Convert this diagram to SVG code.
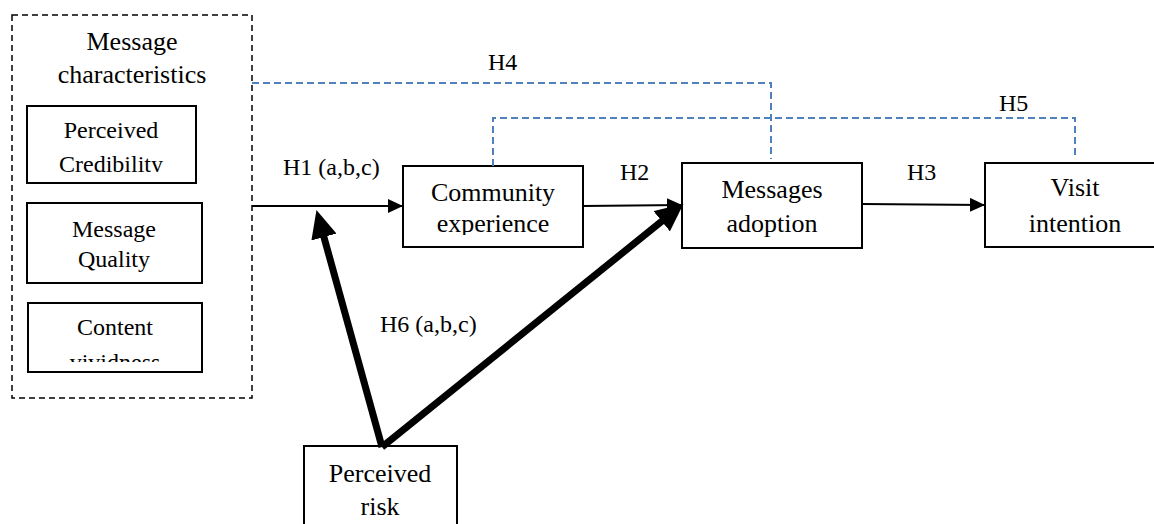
<svg xmlns="http://www.w3.org/2000/svg" width="1154" height="524" viewBox="0 0 1154 524">
<style>
text{fill:#000;font-family:"Liberation Serif",serif}
.n{font-size:26px;text-anchor:middle}
.s{font-size:24px;text-anchor:middle}
.l{font-size:24px}
.box{fill:#fff;stroke:#000;stroke-width:2}
.thin{fill:none;stroke:#000;stroke-width:2}
.thick{fill:none;stroke:#000;stroke-width:7}
.blue{fill:none;stroke:#4f81bd;stroke-width:2;stroke-dasharray:7 4}
</style>
<defs>
<marker id="ah" markerUnits="userSpaceOnUse" markerWidth="16" markerHeight="14" refX="15" refY="7" orient="auto"><path d="M0,0 L15,7 L0,14 Z" fill="#000"/></marker>
<marker id="big" markerUnits="userSpaceOnUse" markerWidth="28" markerHeight="26" refX="2" refY="13" orient="auto"><path d="M0,0 L28,13 L0,26 Z" fill="#000"/></marker>
<clipPath id="c1"><rect x="0" y="0" width="1154" height="235"/></clipPath>
<clipPath id="c2"><rect x="0" y="0" width="1154" height="172"/></clipPath>
<clipPath id="c3"><rect x="0" y="0" width="1154" height="362"/></clipPath>
</defs>
<g id="message-characteristics">
<rect x="12" y="15" width="240" height="383" fill="none" stroke="#000" stroke-width="1.5" stroke-dasharray="6 4"/>
<text class="n" x="132" y="50">Message</text>
<text class="n" x="132" y="83">characteristics</text>
</g>
<g id="perceived-credibility">
<rect class="box" x="27" y="106" width="169" height="77"/>
<text class="s" x="111" y="138">Perceived</text>
<text class="s" x="111" y="172" clip-path="url(#c2)">Credibility</text>
</g>
<g id="message-quality">
<rect class="box" x="27" y="203" width="175" height="80"/>
<text class="s" x="114" y="237">Message</text>
<text class="s" x="114" y="267">Quality</text>
</g>
<g id="content-vividness">
<rect class="box" x="28" y="303" width="174" height="69"/>
<text class="s" x="115" y="335">Content</text>
<text class="s" x="115" y="370" clip-path="url(#c3)">vividness</text>
</g>
<g id="community-experience">
<rect class="box" x="403" y="166" width="180" height="81"/>
<text class="n" x="493" y="201">Community</text>
<text class="n" x="493" y="232" clip-path="url(#c1)">experience</text>
</g>
<g id="messages-adoption">
<rect class="box" x="682" y="163" width="180" height="85"/>
<text class="n" x="772" y="198">Messages</text>
<text class="n" x="772" y="232">adoption</text>
</g>
<g id="visit-intention">
<rect class="box" x="985" y="163" width="185" height="84"/>
<text class="n" x="1075" y="196">Visit</text>
<text class="n" x="1075" y="232">intention</text>
</g>
<g id="perceived-risk">
<rect class="box" x="304" y="446" width="153" height="90"/>
<text class="n" x="380" y="482">Perceived</text>
<text class="n" x="380" y="515">risk</text>
</g>
<g id="connectors">
<path class="blue" d="M252,83 H771 V159"/>
<path class="blue" d="M493,166 V118 H1075 V158"/>
<line class="thin" x1="252" y1="206" x2="403" y2="206" marker-end="url(#ah)"/>
<line class="thin" x1="583" y1="206" x2="682" y2="205" marker-end="url(#ah)"/>
<line class="thin" x1="862" y1="204" x2="985" y2="205" marker-end="url(#ah)"/>
<line class="thick" x1="382" y1="447" x2="323.4" y2="235.1" marker-end="url(#big)"/>
<line class="thick" x1="382" y1="447" x2="663.3" y2="220" marker-end="url(#big)"/>
<text class="l" x="488" y="70">H4</text>
<text class="l" x="999" y="111">H5</text>
<text class="l" x="283" y="175">H1 (a,b,c)</text>
<text class="l" x="620" y="180">H2</text>
<text class="l" x="907" y="180">H3</text>
<text class="l" x="380" y="332">H6 (a,b,c)</text>
</g>
</svg>
